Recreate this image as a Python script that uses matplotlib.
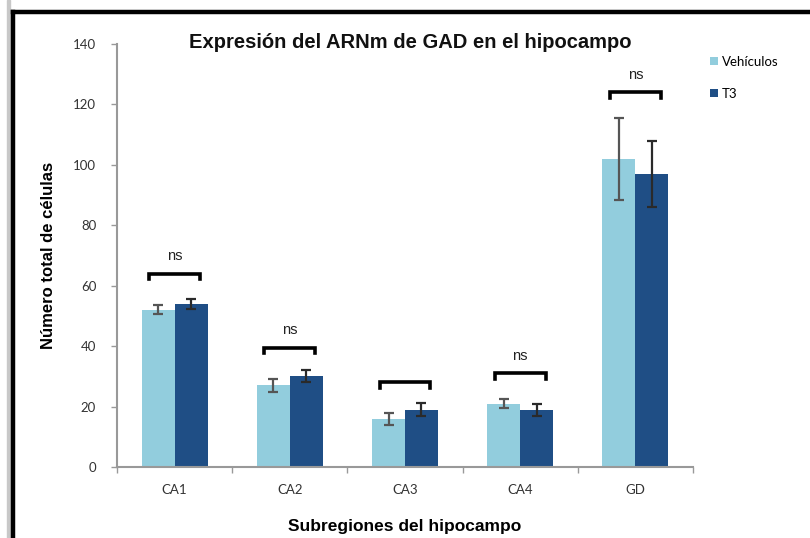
import numpy as np
import matplotlib
matplotlib.use("Agg")
import matplotlib.pyplot as plt
from matplotlib.patches import Rectangle
from matplotlib.lines import Line2D

# Datos
regiones = ['CA1', 'CA2', 'CA3', 'CA4', 'GD']
vehiculos = [52, 27, 16, 21, 102]
vehiculos_err = [1.5, 2.2, 2.0, 1.5, 13.5]
t3 = [54, 30, 19, 19, 97]
t3_err = [1.7, 2.0, 2.2, 2.0, 11]
# altura de los corchetes y etiquetas de significación
corchete_y = [64, 39.5, 28, 31, 124]
etiquetas = ['ns', 'ns', '', 'ns', 'ns']

color_veh = '#92CDDD'
color_t3 = '#1F4E85'

fig = plt.figure(figsize=(8.1, 5.38), dpi=100)

# marco de la imagen
fig.patches.append(Rectangle((7 / 810, 0), 3.5 / 810, 1, transform=fig.transFigure,
                             color='#c8c8c8', zorder=0))
fig.add_artist(Line2D([13 / 810, 13 / 810], [0, 1 - 12 / 538], transform=fig.transFigure,
                      color='black', lw=3.2))
fig.add_artist(Line2D([13 / 810, 1], [1 - 12 / 538, 1 - 12 / 538], transform=fig.transFigure,
                      color='black', lw=3.2))

ax = fig.add_axes([117 / 810, 1 - 467 / 538, 576 / 810, 423 / 538])
x = np.arange(len(regiones))
w = 0.2857

ax.bar(x - w / 2, vehiculos, w, color=color_veh, label='Vehículos', zorder=2)
ax.bar(x + w / 2, t3, w, color=color_t3, label='T3', zorder=2)
ax.errorbar(x - w / 2, vehiculos, yerr=vehiculos_err, fmt='none', ecolor='#555555',
            elinewidth=1.6, capsize=3.5, capthick=1.6, zorder=3)
ax.errorbar(x + w / 2, t3, yerr=t3_err, fmt='none', ecolor='#2a2a2a',
            elinewidth=1.6, capsize=3.5, capthick=1.6, zorder=3)

# corchetes de significación
for xi, yb, txt in zip(x, corchete_y, etiquetas):
    ax.plot([xi - 0.22, xi - 0.22, xi + 0.22, xi + 0.22],
            [yb - 1.8, yb, yb, yb - 1.8], color='black', lw=2.6,
            solid_joinstyle='miter', zorder=4)
    if txt:
        ax.text(xi, yb + 3.5, txt, ha='center', va='bottom', fontsize=10.5,
                family='Liberation Sans', color='#222222')

ax.set_xlim(-0.5, len(regiones) - 0.5)
ax.set_ylim(0, 140)
ax.set_yticks(np.arange(0, 141, 20))
ax.set_xticks(x)
ax.set_xticklabels(regiones)
ax.set_xticks(np.arange(-0.5, len(regiones), 1), minor=True)
ax.tick_params(axis='x', which='major', length=0, pad=12, labelsize=9.5,
               labelcolor='#333333')
ax.tick_params(axis='x', which='minor', length=4, color='#999999', width=1)
ax.tick_params(axis='y', length=4, color='#999999', width=1, labelsize=9.5,
               labelcolor='#333333', pad=11)
for lab in ax.get_xticklabels() + ax.get_yticklabels():
    lab.set_family('Lato')

for s in ['top', 'right']:
    ax.spines[s].set_visible(False)
for s in ['left', 'bottom']:
    ax.spines[s].set_color('#999999')
    ax.spines[s].set_linewidth(1.5)

ax.set_ylabel('Número total de células', fontsize=12, fontweight='bold',
              family='Liberation Sans', labelpad=12)
ax.set_xlabel('Subregiones del hipocampo', fontsize=12.5, fontweight='bold',
              family='Liberation Sans', labelpad=17)

fig.text(410 / 810, 1 - 42 / 538, 'Expresión del ARNm de GAD en el hipocampo',
         ha='center', va='center', fontsize=14.5, fontweight='bold',
         family='Liberation Sans', color='#111111')

fig.legend(loc='upper left', bbox_to_anchor=(698 / 810, 1 - 44 / 538), frameon=False,
           prop={'family': 'Lato', 'size': 9.5}, handlelength=0.6, handleheight=0.6,
           handletextpad=0.3, labelspacing=1.5)

fig.savefig('out.png', dpi=100)
